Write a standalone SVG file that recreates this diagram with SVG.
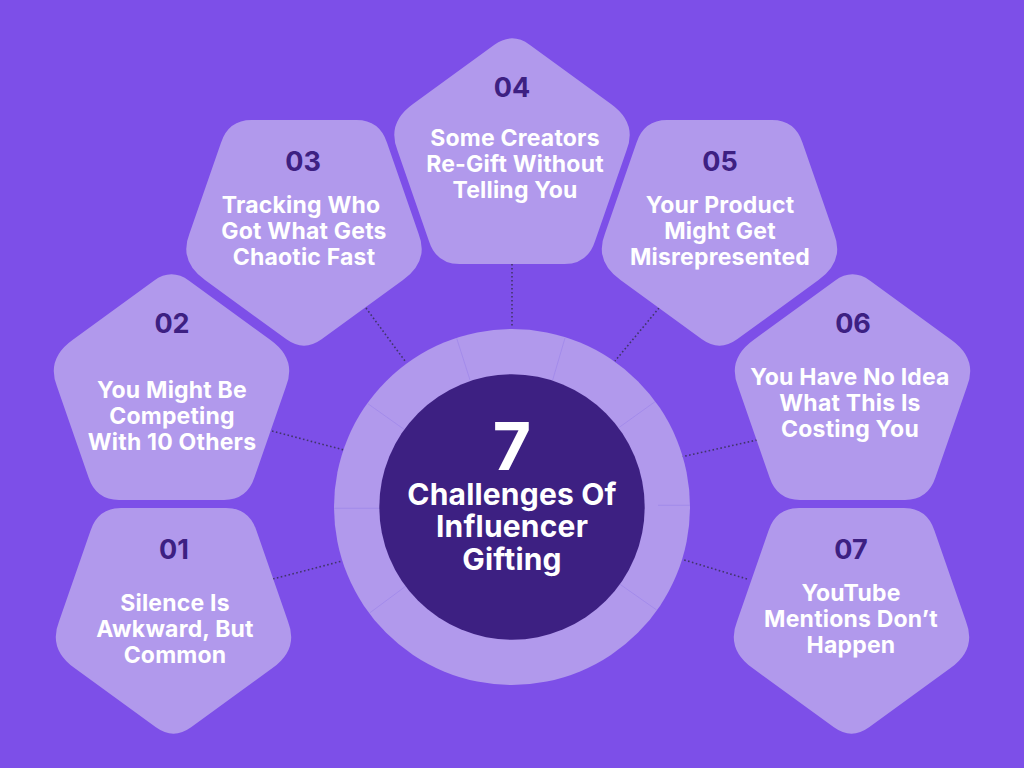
<svg xmlns="http://www.w3.org/2000/svg" width="1024" height="768" viewBox="0 0 1024 768">
<style>
.p{fill:#b199ec}
.n{font:700 27px Inter,"Liberation Sans",sans-serif;fill:#3d2082;text-anchor:middle}
.t{font:700 23px Inter,"Liberation Sans",sans-serif;fill:#fff;text-anchor:middle;letter-spacing:.2px}
.c{font:700 30px Inter,"Liberation Sans",sans-serif;fill:#fff;text-anchor:middle;letter-spacing:.2px}
.s{font:700 66px Inter,"Liberation Sans",sans-serif;fill:#fff;text-anchor:middle}
.d{stroke:#41356a;stroke-width:1.6;stroke-dasharray:1.6 2.4;fill:none}
.r{stroke:#a088ea;stroke-width:.8;fill:none}
</style>
<defs>
<path id="pent" d="M-17.600 -115.300 Q0 -128 17.600 -115.300 L99 -56 Q125.500 -37 114.500 -9.500 L83 81.300 Q75.500 104 52.500 104 L-52.500 104 Q-75.500 104 -83 81.300 L-114.500 -9.500 Q-125.500 -37 -99 -56 Z"/>
</defs>
<rect width="1024" height="768" fill="#7d4fe8"/>
<g id="connectors">
<path class="d" d="M512 264L512 327M366 308L405 361M659 308L615 361M272 431L344 450M757 440L681 457M273 579L342 561M747 579L681 559"/>
</g>
<g id="hub">
<circle cx="512" cy="507" r="178" fill="#b199ec"/>
<path class="r" d="M456.700 338.300L470 380M565 338L552.700 380M655 401.700L619.300 427.300M690 505.300L658 505.300M656.700 610L620 584.300M370 612.700L406 586M334 508.300L379.300 508.300M367.300 403.300L404 429.300"/>
<circle cx="512" cy="507" r="132.700" fill="#3d2082"/>
<text class="s" x="512" y="470">7</text>
<text class="c" x="512" y="505">Challenges Of</text>
<text class="c" x="512" y="537">Influencer</text>
<text class="c" x="512" y="570">Gifting</text>
</g>
<g id="node-01"><use href="#pent" class="p" transform="translate(173.500 612) scale(1 -1)"/><text class="n" x="174" y="559">01</text><text class="t" x="175" y="611">Silence Is</text><text class="t" x="175" y="637">Awkward, But</text><text class="t" x="175" y="663">Common</text></g>
<g id="node-02"><use href="#pent" class="p" transform="translate(171.500 396)"/><text class="n" x="172" y="333">02</text><text class="t" x="172" y="398">You Might Be</text><text class="t" x="172" y="424">Competing</text><text class="t" x="172" y="450">With 10 Others</text></g>
<g id="node-03"><use href="#pent" class="p" transform="translate(304 224) scale(1 -1)"/><text class="n" x="303" y="171">03</text><text class="t" x="301" y="213">Tracking Who</text><text class="t" x="304" y="239">Got What Gets</text><text class="t" x="304" y="265">Chaotic Fast</text></g>
<g id="node-04"><use href="#pent" class="p" transform="translate(512 160)"/><text class="n" x="512" y="97">04</text><text class="t" x="515" y="146">Some Creators</text><text class="t" x="515" y="172">Re-Gift Without</text><text class="t" x="515" y="198">Telling You</text></g>
<g id="node-05"><use href="#pent" class="p" transform="translate(719.500 224) scale(1 -1)"/><text class="n" x="720" y="171">05</text><text class="t" x="720" y="213">Your Product</text><text class="t" x="720" y="239">Might Get</text><text class="t" x="720" y="265">Misrepresented</text></g>
<g id="node-06"><use href="#pent" class="p" transform="translate(852.500 396)"/><text class="n" x="853" y="333">06</text><text class="t" x="850" y="385">You Have No Idea</text><text class="t" x="850" y="411">What This Is</text><text class="t" x="850" y="437">Costing You</text></g>
<g id="node-07"><use href="#pent" class="p" transform="translate(851.500 612) scale(1 -1)"/><text class="n" x="851" y="559">07</text><text class="t" x="851" y="601">YouTube</text><text class="t" x="851" y="627">Mentions Don’t</text><text class="t" x="851" y="653">Happen</text></g>
</svg>
